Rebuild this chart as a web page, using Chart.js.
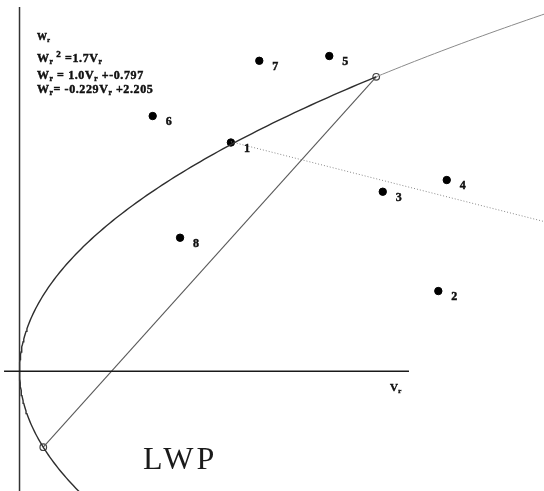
<!DOCTYPE html>
<html>
<head>
<meta charset="utf-8">
<script src="https://cdn.jsdelivr.net/npm/chart.js@4"></script>
<style>
  html, body { margin: 0; padding: 0; background: #ffffff; }
  #wrap { width: 544px; height: 491px; }
</style>
</head>
<body>
<div id="wrap"><canvas id="c" width="544" height="491"></canvas></div>
<script>
// Observed states (Vr, Wr) and their numbers
const pointLabels = ['1', '2', '3', '4', '5', '6', '7', '8'];
const pointVr = [1.83, 3.626, 3.145, 3.699, 2.682, 1.153, 2.076, 1.390];
const pointWr = [1.78, 0.624, 1.397, 1.488, 2.453, 1.986, 2.416, 1.039];

// Curve and line coefficients, as printed in the legend text
const parabolaK = 1.7;          // Wr^2 = K * Vr
const chordSlope = 1.0;         // Wr = a * Vr + b
const chordIntercept = -0.797;
const dottedSlope = -0.229;     // Wr = a * Vr + b
const dottedIntercept = 2.205;

// Axis extents
const xRange = [-0.169, 4.541];
const yRange = [-0.932, 2.889];
const hAxisSpan = [-0.134, 3.372];
const vAxisSpan = [-0.932, 2.834];

// Parabola sample heights (Wr) for the drawn curve
const parabolaWrMain = [];
for (let w = -0.95; w <= 2.2913; w += 0.02) parabolaWrMain.push(w);
parabolaWrMain.push(2.2913);
const parabolaWrUpper = [];
for (let w = 2.2913; w <= 2.92; w += 0.02) parabolaWrUpper.push(w);

// Intersections of the chord with the parabola
function chordHits() {
  // Wr^2 = K (Wr - b)/a  ->  a Wr^2 - K Wr + K b = 0
  const a = chordSlope, K = parabolaK, b = chordIntercept;
  const disc = Math.sqrt(K * K - 4 * a * K * b);
  return [(K - disc) / (2 * a), (K + disc) / (2 * a)].map(w => ({ x: w * w / K, y: w }));
}
const hits = chordHits();

const serif = '"Liberation Serif", "Times New Roman", serif';

const labelPlugin = {
  id: 'labels',
  afterDatasetsDraw(chart) {
    const ctx = chart.ctx;
    const xs = chart.scales.x, ys = chart.scales.y;
    ctx.save();
    ctx.fillStyle = '#111';
    ctx.strokeStyle = '#111';
    ctx.lineWidth = 0.45;
    ctx.textBaseline = 'middle';
    ctx.textAlign = 'left';
    ctx.font = 'bold 12px ' + serif;
    pointLabels.forEach((t, i) => {
      const px = xs.getPixelForValue(pointVr[i]) + 13;
      const py = ys.getPixelForValue(pointWr[i]) + 6;
      ctx.fillText(t, px, py);
      ctx.strokeText(t, px, py);
    });

    // text runs: [text, style] where style is 'n' normal, 's' subscript, 'p' superscript
    function run(x, y, parts, size, spacing) {
      ctx.textBaseline = 'alphabetic';
      ctx.letterSpacing = (spacing || 0) + 'px';
      parts.forEach(([t, s]) => {
        let fs = size, dy = 0;
        if (s === 's') { fs = size * 0.62; dy = 1.5; }
        if (s === 'p') { fs = size * 0.75; dy = -5; }
        ctx.font = 'bold ' + fs + 'px ' + serif;
        ctx.fillText(t, x, y + dy);
        ctx.strokeText(t, x, y + dy);
        x += ctx.measureText(t).width;
      });
      ctx.letterSpacing = '0px';
    }
    run(37, 40, [['W', 'n'], ['r', 's']], 10, 0.3);
    run(37, 62, [['W', 'n'], ['r', 's'], [' 2', 'p'], [' =1.7V', 'n'], ['r', 's']], 12, 0.6);
    run(37, 79, [['W', 'n'], ['r', 's'], [' = 1.0V', 'n'], ['r', 's'], [' +-0.797', 'n']], 12, 0.6);
    run(37, 93, [['W', 'n'], ['r', 's'], ['= -0.229V', 'n'], ['r', 's'], [' +2.205', 'n']], 12, 0.6);
    run(390, 391, [['V', 'n'], ['r', 's']], 11, 0.3);

    ctx.font = '32px ' + serif;
    ctx.letterSpacing = '3px';
    ctx.fillStyle = '#1a1a1a';
    ctx.textBaseline = 'alphabetic';
    ctx.fillText('LWP', 143, 469);
    ctx.letterSpacing = '0px';
    ctx.restore();
  }
};

const lineDs = (data, color, width, dash) => ({
  data, showLine: true, borderColor: color, borderWidth: width,
  borderDash: dash || [], pointRadius: 0, fill: false, tension: 0
});

new Chart(document.getElementById('c'), {
  type: 'scatter',
  data: {
    datasets: [
      lineDs([{ x: hAxisSpan[0], y: 0 }, { x: hAxisSpan[1], y: 0 }], '#1a1a1a', 1.5),
      lineDs([{ x: 0, y: vAxisSpan[0] }, { x: 0, y: vAxisSpan[1] }], '#333', 1.5),
      lineDs(parabolaWrMain.map(w => ({ x: w * w / parabolaK, y: w })), '#2e2e2e', 1.4),
      lineDs(parabolaWrUpper.map(w => ({ x: w * w / parabolaK, y: w })), '#8a8a8a', 1),
      lineDs(hits.map(p => ({ x: p.x, y: chordSlope * p.x + chordIntercept })), '#5a5a5a', 1.1),
      lineDs([pointVr[0], 4.7].map(v => ({ x: v, y: dottedSlope * v + dottedIntercept })), '#888', 1, [1, 2]),
      {
        data: pointVr.map((v, i) => ({ x: v, y: pointWr[i] })),
        pointRadius: 3.7, pointBackgroundColor: '#000', pointBorderColor: '#000', showLine: false
      },
      {
        data: hits,
        pointRadius: 3.3, pointBackgroundColor: '#fff', pointBorderColor: '#444', pointBorderWidth: 1.2, showLine: false
      }
    ]
  },
  options: {
    responsive: false,
    animation: false,
    layout: { padding: 0, autoPadding: false },
    plugins: { legend: { display: false }, tooltip: { enabled: false } },
    scales: {
      x: { type: 'linear', min: xRange[0], max: xRange[1], display: false },
      y: { type: 'linear', min: yRange[0], max: yRange[1], display: false }
    }
  },
  plugins: [labelPlugin]
});
</script>
</body>
</html>
